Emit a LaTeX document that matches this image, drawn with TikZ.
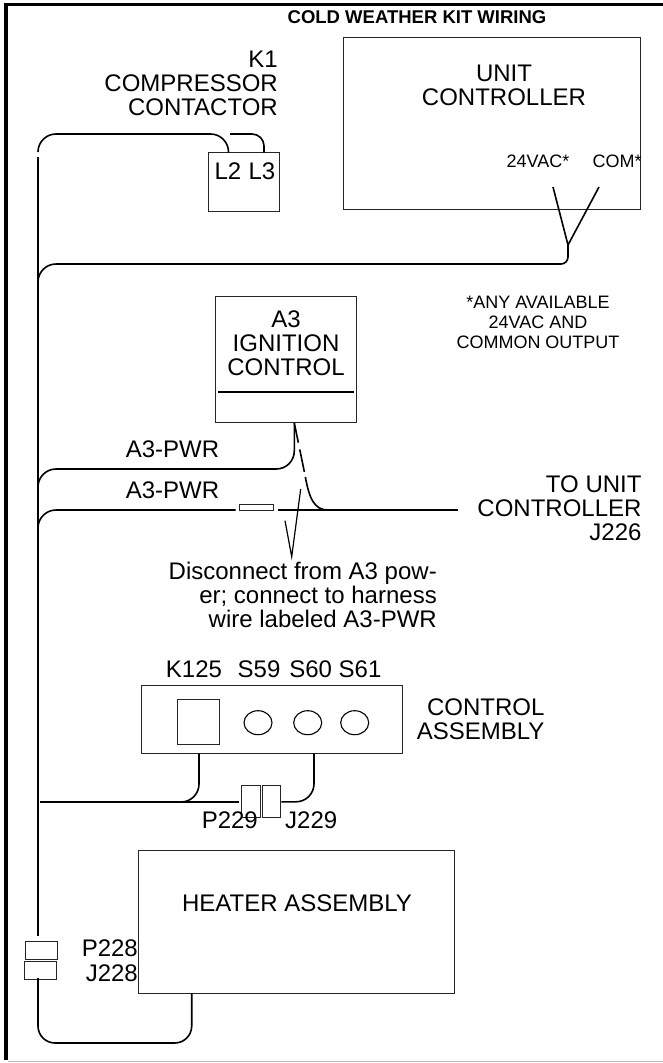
\documentclass[tikz,border=0pt]{standalone}
\usepackage{fontspec}
\setmainfont{Liberation Sans}
\tikzset{
  wire/.style={line width=1.6pt,color=black},
  thinwire/.style={line width=1.2pt,color=black},
  box/.style={draw=black!85,line width=1pt,inner sep=0pt,fill=none},
  lbl/.style={inner sep=0pt,font=\fontsize{24}{24}\selectfont},
  small/.style={inner sep=0pt,font=\fontsize{18}{19.7}\selectfont},
}
\begin{document}
\begin{tikzpicture}[x=1pt,y=-1pt]
        \useasboundingbox (0,0) rectangle (663,1063) ;
        % frame
        \draw[line width=3.2pt] (663,4.5)--(6,4.5)--(6,1060) ;
        \draw[line width=1pt,color=black!25] (8,1061.5)--(663,1061.5) ;
        \node[small,font=\fontsize{18.5}{19}\selectfont\bfseries] (title) at (417,17.5) {COLD WEATHER KIT WIRING} ;
        % boxes
        \node[box,minimum width=71pt,minimum height=59pt] (k1) at (243.5,182.2) {} ;
        \node[box,minimum width=297pt,minimum height=172pt] (ctrl) at (491.5,123) {} ;
        \node[box,minimum width=141pt,minimum height=126pt] (a3) at (285.5,359) {} ;
        \node[box,minimum width=261pt,minimum height=68pt] (asm) at (271.5,719.7) {} ;
        \node[box,minimum width=42pt,minimum height=45pt] (k125) at (198,722.3) {} ;
        \node[box,minimum width=316pt,minimum height=143pt] (heat) at (296.2,921.7) {} ;
        \node[box,minimum width=18.6pt,minimum height=31.7pt] (p229) at (251,801.8) {} ;
        \node[box,minimum width=18.3pt,minimum height=31.7pt] (j229) at (271.8,801.8) {} ;
        \node[box,minimum width=32pt,minimum height=18.7pt] (p228) at (41.3,950.6) {} ;
        \node[box,minimum width=32.4pt,minimum height=18.3pt] (j228) at (40.5,970.8) {} ;
        \node[box,minimum width=34pt,minimum height=6.7pt] (fuse) at (256,507.4) {} ;
        \foreach \name/\x in {s59/258,s60/307.7,s61/354.7}
          \draw[line width=1.1pt] (\x,722.7) circle [x radius=14,y radius=12] ;
        % labels
        \node[lbl,align=right,anchor=base east] (k1txt) at (278,115.5) {K1\\COMPRESSOR\\CONTACTOR} ;
        \node[lbl,anchor=base] (l2txt) at (228,179) {L2} ;
        \node[lbl,anchor=base] (l3txt) at (262,179) {L3} ;
        \node[lbl,align=center,anchor=base] (ctrltxt) at (504,105) {UNIT\\CONTROLLER} ;
        \node[small,anchor=base] (vac) at (538,167) {24VAC*} ;
        \node[small,anchor=base] (com) at (617,167) {COM*} ;
        \node[small,align=center,anchor=base] (note) at (538,348) {*ANY AVAILABLE\\24VAC AND\\COMMON OUTPUT} ;
        \node[lbl,align=center,anchor=base] (a3txt) at (286,375) {A3\\IGNITION\\CONTROL} ;
        \node[lbl,anchor=base] (pwra) at (172.5,457.7) {A3-PWR} ;
        \node[lbl,anchor=base] (pwrb) at (172.5,498) {A3-PWR} ;
        \node[lbl,align=right,anchor=base east] (toctrl) at (641.7,540) {TO UNIT\\CONTROLLER\\J226} ;
        \node[lbl,align=right,anchor=base east] (disc) at (437,627) {Disconnect from A3 pow-\\er; connect to harness\\wire labeled A3-PWR} ;
        \node[lbl,anchor=base] (k125txt) at (194,677) {K125} ;
        \node[lbl,anchor=base] (s59txt) at (259,677) {S59} ;
        \node[lbl,anchor=base] (s60txt) at (310.7,677) {S60} ;
        \node[lbl,anchor=base] (s61txt) at (360,677) {S61} ;
        \node[lbl,align=right,anchor=base east] (asmtxt) at (544.7,739) {CONTROL\\ASSEMBLY} ;
        \node[lbl,anchor=base east] (p229txt) at (258,828) {P229} ;
        \node[lbl,anchor=base west] (j229txt) at (285,828) {J229} ;
        \node[lbl,anchor=base] (heattxt) at (297,911.7) {HEATER ASSEMBLY} ;
        \node[lbl,anchor=base east] (p228txt) at (138,956.7) {P228} ;
        \node[lbl,anchor=base east] (j228txt) at (138,981.7) {J228} ;
        % wire ends
        \coordinate (bustop) at (38,157) ;
        \coordinate (busbot) at (38,935.5) ;
        \coordinate (topleft) at (38,152) ;
        \coordinate (l2) at (228.5,152.7) ;
        \coordinate (l3) at (264,152.7) ;
        \coordinate (t2) at (230,134) ;
        \coordinate (vacend) at (553,187) ;
        \coordinate (comend) at (599,187) ;
        \coordinate (fork) at (568,245) ;
        \coordinate (busa) at (38,284) ;
        \coordinate (busb) at (38,488) ;
        \coordinate (busc) at (38,529) ;
        \coordinate (a3pin) at (294.3,423) ;
        \coordinate (fusein) at (235.5,510) ;
        \coordinate (fuseout) at (278,510) ;
        \coordinate (toend) at (458,510) ;
        \coordinate (busd) at (40,802) ;
        \coordinate (asma) at (199,753.7) ;
        \coordinate (asmb) at (314,753.7) ;
        \coordinate (heatpin) at (191.7,993.3) ;
        \coordinate (j228pin) at (38,978) ;
        % wires
        \draw[wire] (bustop) -- (busbot) ;
        \draw[wire,rounded corners=18pt] (topleft) |- (228.5,134) -- (l2) ;
        \draw[wire,rounded corners=12pt] (t2) -- (264,134) -- (l3) ;
        \draw[wire,rounded corners=18pt] (busa) |- (300,264) [rounded corners=7pt] -| (fork) ;
        \draw[wire] (vacend) -- (fork) -- (comend) ;
        \draw[wire,rounded corners=18pt] (busb) |- (294.3,469) -- (a3pin) ;
        \draw[wire,rounded corners=18pt] (busc) |- (fusein) ;
        \draw[wire] (fuseout) -- (toend) ;
        \draw[wire,dash pattern=on 20pt off 7pt on 23pt off 5pt on 100pt]
        (a3pin) -- (305,475) .. controls (309,498) and (314,510) .. (328,510) ;
        \draw[thinwire] (300.7,489) -- (291.7,556.7) -- (285,520.7) ;
        \draw[line width=2pt] (218,391.7) -- (354,391.7) ;
        \draw[wire,rounded corners=18pt] (asma) |- (busd) ;
        \draw[wire] (busd) -- (239,802) ;
        \draw[wire,rounded corners=18pt] (asmb) |- (j229.east) ;
        \draw[wire,rounded corners=17pt] (j228pin) |- (heatpin |- 0,1043) -- (heatpin) ;
\end{tikzpicture}
\end{document}
